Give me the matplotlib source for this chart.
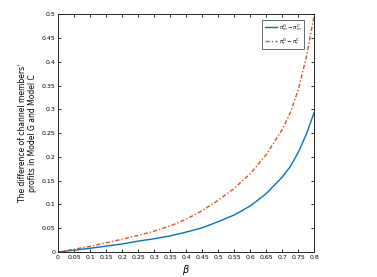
import matplotlib.pyplot as plt
from matplotlib.ticker import MultipleLocator

beta = [0, 0.05, 0.1, 0.15, 0.2, 0.25, 0.3, 0.35, 0.4, 0.45, 0.5,
        0.55, 0.6, 0.65, 0.7, 0.725, 0.75, 0.775, 0.8]
diff_m = [0, 0.004, 0.008, 0.0125, 0.017, 0.023, 0.028, 0.034, 0.042, 0.051, 0.064,
          0.078, 0.097, 0.123, 0.158, 0.18, 0.21, 0.248, 0.295]
diff_r = [0, 0.006, 0.012, 0.0195, 0.027, 0.035, 0.044, 0.055, 0.069, 0.087, 0.109,
          0.134, 0.165, 0.205, 0.258, 0.293, 0.342, 0.41, 0.5]

fig = plt.figure(figsize=(3.77, 2.77), dpi=100)
ax = fig.add_axes([0.154, 0.09, 0.68, 0.859])

ax.plot(beta, diff_m, color="#0072BD", lw=1.0, label=r"$\pi_m^G-\pi_m^C$")
ax.plot(beta, diff_r, color="#D95319", lw=1.0, ls=(0, (3, 1.5, 1, 1.5)),
        label=r"$\pi_r^G-\pi_r^C$")

ax.set_xlim(0, 0.8)
ax.set_ylim(0, 0.5)
ax.xaxis.set_major_locator(MultipleLocator(0.05))
ax.yaxis.set_major_locator(MultipleLocator(0.05))
ax.xaxis.set_major_formatter(lambda v, p: "%g" % round(v, 2))
ax.yaxis.set_major_formatter(lambda v, p: "%g" % round(v, 2))
ax.tick_params(direction="in", length=2.5, width=0.6, labelsize=4.5, pad=2,
               top=True, right=True)
for s in ax.spines.values():
    s.set_linewidth(0.7)
    s.set_color("#262626")

ax.set_xlabel(r"$\beta$", fontsize=7, labelpad=2)
ax.set_ylabel("The difference of channel members'\nprofits in Model G and Model C",
              fontsize=5.5, labelpad=3)

leg = ax.legend(loc="upper right", fontsize=4, fancybox=False, edgecolor="#262626",
                handlelength=2.2, handletextpad=0.4, borderpad=0.4, labelspacing=0.5,
                borderaxespad=0, bbox_to_anchor=(0.96, 0.975))
leg.get_frame().set_linewidth(0.6)

fig.savefig("out.png", dpi=100)
